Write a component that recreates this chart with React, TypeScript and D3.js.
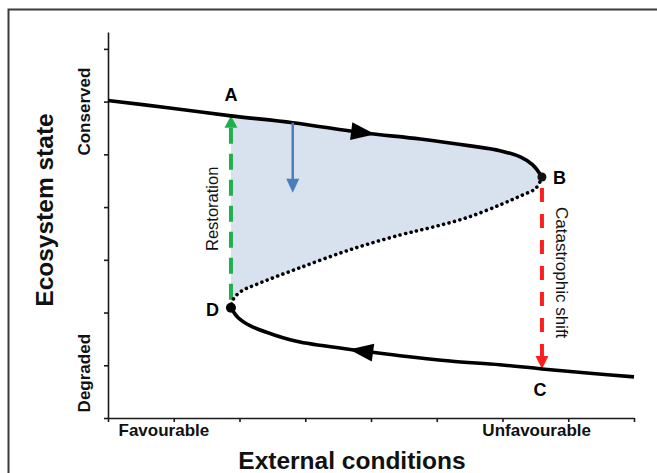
import React, { useEffect, useRef } from "react";
import * as d3 from "d3";

type Pt = [number, number];

// axis ticks (no numeric labels in the figure)
const xTicks = [0, 1, 2, 3, 4, 5, 6, 7, 8];
const yTicks = [0, 1, 2, 3, 4, 5, 6, 7];

// stable upper branch (conserved state), left -> fold point B
const upperBranch: Pt[] = [
  [0, 6.02], [0.94, 5.88], [1.87, 5.73], [2.81, 5.6], [3.88, 5.41],
  [4.75, 5.29], [5.51, 5.16], [5.96, 5.07], [6.27, 4.95], [6.46, 4.8], [6.6, 4.57],
];

// unstable middle branch (dotted), B -> D
const middleBranch: Pt[] = [
  [6.6, 4.57], [6.51, 4.36], [6.27, 4.21], [5.96, 4.04], [5.46, 3.8],
  [4.94, 3.62], [4.44, 3.47], [3.68, 3.19], [2.92, 2.85], [2.31, 2.56],
  [2.01, 2.39], [1.9, 2.24], [1.87, 2.09],
];

// stable lower branch (degraded state), D -> right
const lowerBranch: Pt[] = [
  [1.87, 2.09], [1.98, 1.9], [2.16, 1.75], [2.54, 1.57], [2.92, 1.44],
  [3.88, 1.27], [4.44, 1.18], [5.2, 1.08], [5.96, 1.01], [6.6, 0.93],
  [7.33, 0.85], [8, 0.78],
];

const pointNames = ["A", "B", "C", "D"];
const pointA: Pt = [1.87, 5.73];
const pointB: Pt = [6.6, 4.57];
const pointC: Pt = [6.6, 0.93];
const pointD: Pt = [1.87, 2.09];

// perturbation arrow (blue)
const perturbFrom: Pt = [2.81, 5.6];
const perturbTo: Pt = [2.81, 4.27];

const conditionLabels = ["Favourable", "Unfavourable"];
const conditionX = [0.85, 6.52];
const stateLabels = ["Conserved", "Degraded"];
const stateY = [5.81, 0.85];

const FONT = "'Liberation Sans', Arial, Helvetica, sans-serif";

export default function App() {
  const svgRef = useRef<SVGSVGElement>(null);

  useEffect(() => {
    if (!svgRef.current) return;
    const svg = d3.select(svgRef.current);
    svg.selectAll("*").remove();

    const width = 657;
    const height = 473;

    const x = d3.scaleLinear().domain([0, 8]).range([108, 634]);
    const y = d3.scaleLinear().domain([0, 7.32]).range([418, 32]);

    // frame
    svg.append("path")
      .attr("d", `M8.5,${height} V9.5 H${width}`)
      .attr("fill", "none")
      .attr("stroke", "#3a3a3a")
      .attr("stroke-width", 2);

    const line = d3.line<Pt>()
      .x((d) => x(d[0]))
      .y((d) => y(d[1]))
      .curve(d3.curveCatmullRom.alpha(0.5));

    // hysteresis area between the branches
    const areaPts = upperBranch.slice(2).concat(middleBranch.slice(1));
    svg.append("path")
      .attr("d", (line(areaPts) || "") + "Z")
      .attr("fill", "#d8e1ee");

    // axes
    const yAxis = svg.append("g")
      .attr("transform", `translate(${x(0)},0)`)
      .call(d3.axisLeft(y).tickValues(yTicks).tickSize(4).tickSizeOuter(0).tickFormat(() => ""));
    const xAxis = svg.append("g")
      .attr("transform", `translate(0,${y(0)})`)
      .call(d3.axisBottom(x).tickValues(xTicks).tickSize(4).tickSizeOuter(0).tickFormat(() => ""));
    [yAxis, xAxis].forEach((a) => {
      a.selectAll("line, path").attr("stroke", "#1a1a1a").attr("stroke-width", 1.6);
    });

    // restoration (green dashed, upward)
    const green = "#1faf4b";
    svg.append("line")
      .attr("x1", x(pointA[0])).attr("x2", x(pointA[0]))
      .attr("y1", y(pointA[1]) + 12).attr("y2", y(pointD[1]) - 4)
      .attr("stroke", green).attr("stroke-width", 4)
      .attr("stroke-dasharray", "16,10");
    svg.append("path")
      .attr("d", `M${x(pointA[0])},${y(pointA[1])} l6.5,12 h-13 Z`)
      .attr("fill", green);

    // catastrophic shift (red dashed, downward)
    const red = "#ff1f1f";
    svg.append("line")
      .attr("x1", x(pointB[0])).attr("x2", x(pointB[0]))
      .attr("y1", y(pointB[1]) + 11).attr("y2", y(pointC[1]) - 13)
      .attr("stroke", red).attr("stroke-width", 4)
      .attr("stroke-dasharray", "14,12");
    svg.append("path")
      .attr("d", `M${x(pointC[0])},${y(pointC[1])} l-6.5,-13 h13 Z`)
      .attr("fill", red);

    // branches
    svg.append("path")
      .attr("d", line(middleBranch))
      .attr("fill", "none")
      .attr("stroke", "#000")
      .attr("stroke-width", 3.6)
      .attr("stroke-linecap", "round")
      .attr("stroke-dasharray", "0.01,5.6");
    [upperBranch, lowerBranch].forEach((b) => {
      svg.append("path")
        .attr("d", line(b))
        .attr("fill", "none")
        .attr("stroke", "#000")
        .attr("stroke-width", 3.6);
    });

    // direction arrows along the stable branches
    const arrowAt = (b: Pt[], i: number, dir: number, shift: number) => {
      const p0 = b[i - 1], p1 = b[i + 1];
      const ang = (Math.atan2(y(p1[1]) - y(p0[1]), x(p1[0]) - x(p0[0])) * 180) / Math.PI
        + (dir < 0 ? 180 : 0);
      svg.append("path")
        .attr("d", "M12,0 L-12,-9 L-12,9 Z")
        .attr("fill", "#000")
        .attr("transform", `translate(${x(b[i][0]) + shift},${y(b[i][1])}) rotate(${ang})`);
    };
    arrowAt(upperBranch, 4, 1, 0);
    arrowAt(lowerBranch, 5, -1, -2);

    // perturbation arrow (blue)
    const blue = "#4a7dba";
    svg.append("line")
      .attr("x1", x(perturbFrom[0])).attr("x2", x(perturbTo[0]))
      .attr("y1", y(perturbFrom[1])).attr("y2", y(perturbTo[1]) - 12)
      .attr("stroke", blue).attr("stroke-width", 2.5);
    svg.append("path")
      .attr("d", `M${x(perturbTo[0])},${y(perturbTo[1])} l-6.5,-14 h13 Z`)
      .attr("fill", blue);

    // fold points
    svg.append("circle").attr("cx", x(pointB[0])).attr("cy", y(pointB[1])).attr("r", 4.5).attr("fill", "#111");
    svg.append("circle").attr("cx", x(pointD[0])).attr("cy", y(pointD[1])).attr("r", 5).attr("fill", "#000");

    // point letters
    const letterPos: { p: Pt; dx: number; dy: number; anchor: string }[] = [
      { p: pointA, dx: 0, dy: -15, anchor: "middle" },
      { p: pointB, dx: 11, dy: 7, anchor: "start" },
      { p: pointC, dx: -2, dy: 27, anchor: "middle" },
      { p: pointD, dx: -12, dy: 8, anchor: "end" },
    ];
    pointNames.forEach((n, i) => {
      const lp = letterPos[i];
      svg.append("text")
        .attr("x", x(lp.p[0]) + lp.dx)
        .attr("y", y(lp.p[1]) + lp.dy)
        .attr("text-anchor", lp.anchor)
        .style("font-family", FONT)
        .style("font-weight", "bold")
        .style("font-size", "18px")
        .attr("fill", "#000")
        .text(n);
    });

    // transition labels
    svg.append("text")
      .attr("transform", `translate(218,${(y(pointA[1]) + y(pointD[1])) / 2 - 3}) rotate(-90)`)
      .attr("text-anchor", "middle")
      .style("font-family", FONT)
      .style("font-size", "16.5px")
      .attr("fill", "#111")
      .text("Restoration");
    svg.append("text")
      .attr("transform", `translate(556,207) rotate(90)`)
      .attr("text-anchor", "start")
      .style("font-family", FONT)
      .style("font-size", "17px")
      .attr("fill", "#111")
      .text("Catastrophic shift");

    // end-of-axis labels
    conditionLabels.forEach((t, i) => {
      svg.append("text")
        .attr("x", x(conditionX[i]))
        .attr("y", 436)
        .attr("text-anchor", "middle")
        .style("font-family", FONT)
        .style("font-weight", "bold")
        .style("font-size", "17px")
        .attr("fill", "#111")
        .text(t);
    });
    stateLabels.forEach((t, i) => {
      svg.append("text")
        .attr("transform", `translate(90,${y(stateY[i])}) rotate(-90)`)
        .attr("text-anchor", "middle")
        .style("font-family", FONT)
        .style("font-weight", "bold")
        .style("font-size", "17px")
        .attr("fill", "#111")
        .text(t);
    });

    // axis titles
    svg.append("text")
      .attr("x", 352)
      .attr("y", 469)
      .attr("text-anchor", "middle")
      .style("font-family", FONT)
      .style("font-weight", "bold")
      .style("font-size", "24.5px")
      .attr("fill", "#111")
      .text("External conditions");
    svg.append("text")
      .attr("transform", `translate(53,210) rotate(-90)`)
      .attr("text-anchor", "middle")
      .style("font-family", FONT)
      .style("font-weight", "bold")
      .style("font-size", "24.5px")
      .attr("fill", "#111")
      .text("Ecosystem state");
  }, []);

  return (
    <div style={{ position: "fixed", left: 0, top: 0 }}>
      <svg ref={svgRef} width={657} height={473} style={{ display: "block", background: "#fff" }} />
    </div>
  );
}
